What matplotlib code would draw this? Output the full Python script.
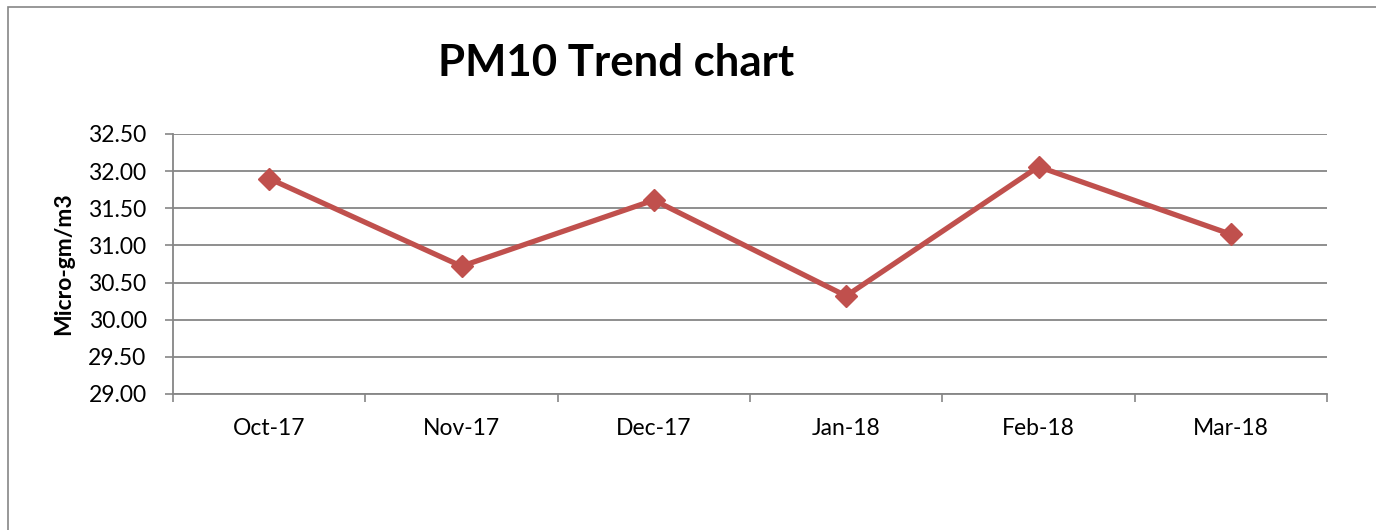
import numpy as np
import matplotlib
matplotlib.use('Agg')
import matplotlib.pyplot as plt
from matplotlib.patches import Rectangle

plt.rcParams['font.family'] = ['Lato', 'DejaVu Sans']

months = ['Oct-17', 'Nov-17', 'Dec-17', 'Jan-18', 'Feb-18', 'Mar-18']
pm10 = [31.90, 30.72, 31.61, 30.32, 32.06, 31.15]
yticks = [29.0, 29.5, 30.0, 30.5, 31.0, 31.5, 32.0, 32.5]

W, H = 1376, 530
fig = plt.figure(figsize=(W / 100, H / 100), dpi=100)
ax = fig.add_axes([173 / W, 1 - 394 / H, (1327 - 173) / W, (394 - 134) / H])

grey = '#868686'
red = '#C0504D'

# outer chart frame (right and bottom run off the image)
fig.patches.append(Rectangle((8 / W, -0.5), 2.0, 1 - 7 / H + 0.5,
                             transform=fig.transFigure, fill=False,
                             edgecolor=grey, linewidth=1.2))

x = np.arange(len(months))
ax.set_yticks(yticks)
ax.yaxis.grid(True, color=grey, linewidth=1.3)
ax.set_axisbelow(True)
ax.plot(x, pm10, color=red, linewidth=3.8, marker='D', markersize=11.5,
        zorder=3)

ax.set_xlim(-0.5, len(months) - 0.5)
ax.set_ylim(29.0, 32.5)
ax.set_yticklabels(['{:.2f}'.format(v) for v in yticks])

# category boundaries get ticks, labels sit at the centres
ax.set_xticks(np.arange(-0.5, len(months)))
ax.set_xticklabels([])
ax.set_xticks(x, minor=True)
ax.set_xticklabels(months, minor=True)
ax.tick_params(axis='x', which='major', length=6, width=1.2, color=grey,
               direction='out')
ax.tick_params(axis='x', which='minor', length=0, pad=17, labelsize=16.5)
ax.tick_params(axis='y', length=6, width=1.2, color=grey, direction='out',
               pad=13, labelsize=16.5)

for s in ['top', 'right']:
    ax.spines[s].set_visible(False)
for s in ['left', 'bottom']:
    ax.spines[s].set_color(grey)
    ax.spines[s].set_linewidth(1.3)

ax.set_ylabel('Micro-gm/m3', fontsize=16.5, fontweight='bold', labelpad=10)
fig.text(616 / W, 1 - 63 / H, 'PM10 Trend chart', fontsize=31.5,
         fontweight='bold', ha='center', va='center')

fig.savefig('out.png', dpi=100)
